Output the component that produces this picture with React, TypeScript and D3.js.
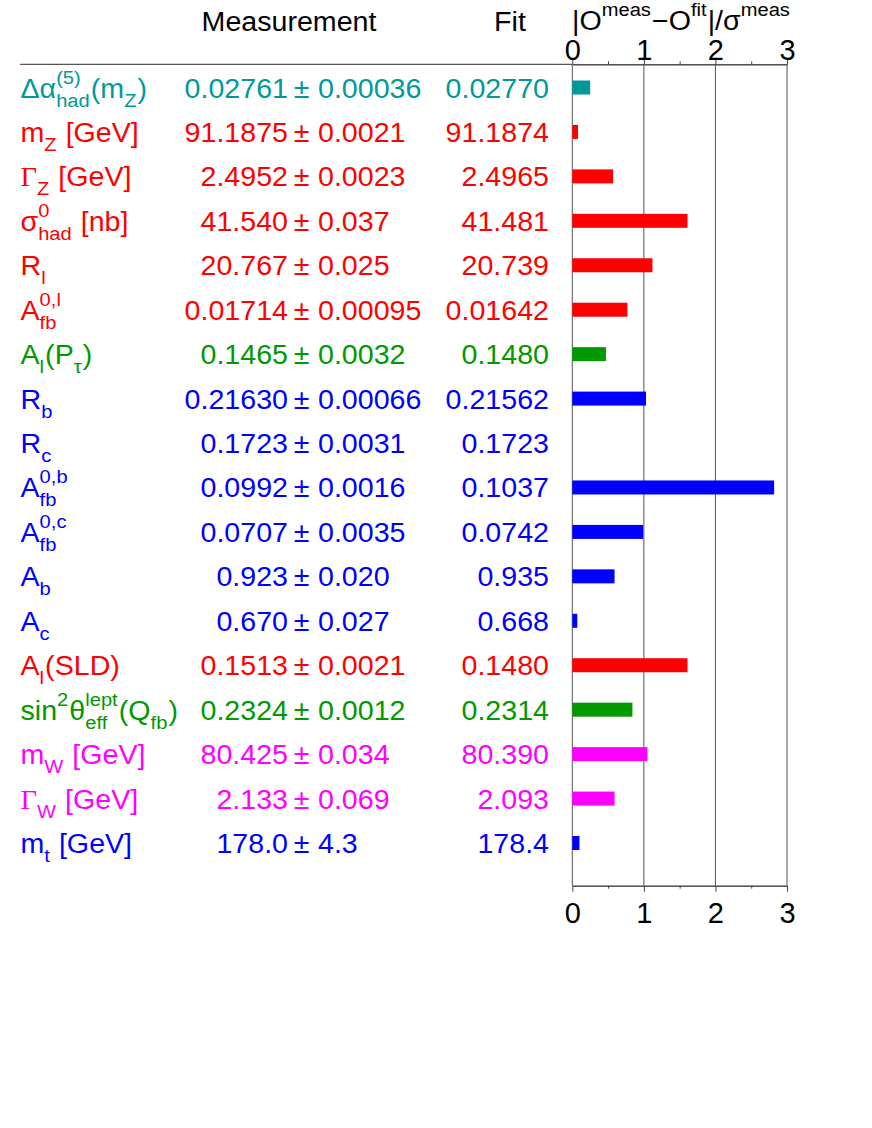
import React, { useEffect, useRef } from "react";
import * as d3 from "d3";

// rich-text pieces: plain text, sup, sub, or stacked sup+sub ("ss")
type Seg = { t: string; k?: "sup" | "sub" | "ss"; s?: string; serif?: boolean };

const labels: Seg[][] = [
  [{ t: "\u0394\u03b1" }, { t: "(5)", k: "ss", s: "had" }, { t: "(m" }, { t: "Z", k: "sub" }, { t: ")" }],
  [{ t: "m" }, { t: "Z", k: "sub" }, { t: " [GeV]" }],
  [{ t: "\u0393", serif: true }, { t: "Z", k: "sub" }, { t: " [GeV]" }],
  [{ t: "\u03c3" }, { t: "0", k: "ss", s: "had" }, { t: " [nb]" }],
  [{ t: "R" }, { t: "l", k: "sub" }],
  [{ t: "A" }, { t: "0,l", k: "ss", s: "fb" }],
  [{ t: "A" }, { t: "l", k: "sub" }, { t: "(P" }, { t: "\u03c4", k: "sub" }, { t: ")" }],
  [{ t: "R" }, { t: "b", k: "sub" }],
  [{ t: "R" }, { t: "c", k: "sub" }],
  [{ t: "A" }, { t: "0,b", k: "ss", s: "fb" }],
  [{ t: "A" }, { t: "0,c", k: "ss", s: "fb" }],
  [{ t: "A" }, { t: "b", k: "sub" }],
  [{ t: "A" }, { t: "c", k: "sub" }],
  [{ t: "A" }, { t: "l", k: "sub" }, { t: "(SLD)" }],
  [{ t: "sin" }, { t: "2", k: "sup" }, { t: "\u03b8" }, { t: "lept", k: "ss", s: "eff" }, { t: "(Q" }, { t: "fb", k: "sub" }, { t: ")" }],
  [{ t: "m" }, { t: "W", k: "sub" }, { t: " [GeV]" }],
  [{ t: "\u0393", serif: true }, { t: "W", k: "sub" }, { t: " [GeV]" }],
  [{ t: "m" }, { t: "t", k: "sub" }, { t: " [GeV]" }],
];

const measured = ["0.02761", "91.1875", "2.4952", "41.540", "20.767", "0.01714", "0.1465", "0.21630", "0.1723",
  "0.0992", "0.0707", "0.923", "0.670", "0.1513", "0.2324", "80.425", "2.133", "178.0"];
const errors = ["0.00036", "0.0021", "0.0023", "0.037", "0.025", "0.00095", "0.0032", "0.00066", "0.0031",
  "0.0016", "0.0035", "0.020", "0.027", "0.0021", "0.0012", "0.034", "0.069", "4.3"];
const fits = ["0.02770", "91.1874", "2.4965", "41.481", "20.739", "0.01642", "0.1480", "0.21562", "0.1723",
  "0.1037", "0.0742", "0.935", "0.668", "0.1480", "0.2314", "80.390", "2.093", "178.4"];
const pulls = [0.25, 0.08, 0.57, 1.61, 1.12, 0.77, 0.47, 1.03, 0.0, 2.82, 0.99, 0.59, 0.07, 1.61, 0.84, 1.05, 0.59, 0.1];
const groups = ["teal", "red", "red", "red", "red", "red", "green", "blue", "blue",
  "blue", "blue", "blue", "blue", "red", "green", "magenta", "magenta", "blue"];
const ticks = [0, 1, 2, 3];
const minorTicks = [0.5, 1.5, 2.5];

const colors: Record<string, string> = {
  teal: "#009999",
  red: "#ff0000",
  green: "#009900",
  blue: "#0000ff",
  magenta: "#ff00ff",
};

const FONT = "Liberation Sans, Arial, Helvetica, sans-serif";
const SIZE = 27;
const SCRIPT = 19;
const SX = 1.06; // ROOT text is a touch wider than Arial

const App = () => {
  const svgRef = useRef<SVGSVGElement>(null);

  useEffect(() => {
    const svg = d3.select(svgRef.current);
    svg.selectAll("*").remove();

    const x = d3.scaleLinear().domain([0, 3]).range([572.3, 787]);
    const y = d3.scalePoint<number>().domain(d3.range(labels.length)).range([97.5, 853]);
    const top = 64.3;
    const bottom = 885.7;

    // draws a row of pieces, returns its width (local units)
    const rich = (g: any, segs: Seg[]) => {
      let cx = 0;
      segs.forEach((seg) => {
        const put = (t: string, dy: number, fs: number) =>
          g.append("text").attr("x", cx).attr("y", dy).attr("font-size", fs)
            .style("white-space", "pre")
            .attr("font-family", seg.serif ? "Liberation Serif, serif" : null).text(t);
        if (seg.k === "ss") {
          const a = put(seg.t, -14, SCRIPT);
          const b = put(seg.s || "", 9, SCRIPT);
          cx += Math.max(a.node().getComputedTextLength(), b.node().getComputedTextLength()) + 1;
        } else if (seg.k === "sup") {
          cx += put(seg.t, -14, SCRIPT).node().getComputedTextLength() + 1;
        } else if (seg.k === "sub") {
          cx += put(seg.t, 9, SCRIPT).node().getComputedTextLength() + 1;
        } else {
          cx += put(seg.t, 0, SIZE).node().getComputedTextLength();
        }
      });
      return cx;
    };

    const txt = (px: number, py: number, anchor: string, fill: string) =>
      svg.append("g")
        .attr("transform", `translate(${px},${py}) scale(${SX},1)`)
        .attr("font-family", FONT)
        .attr("font-size", SIZE)
        .attr("fill", fill)
        .attr("text-anchor", anchor);

    // headers
    txt(289, 31, "middle", "#000").append("text").text("Measurement");
    txt(510, 31, "middle", "#000").append("text").text("Fit");
    rich(txt(572, 30, "start", "#000"), [
      { t: "|O" }, { t: "meas", k: "sup" }, { t: "\u2212O" }, { t: "fit", k: "sup" },
      { t: "|/\u03c3" }, { t: "meas", k: "sup" },
    ]);

    // separator line
    svg.append("line").attr("x1", 20).attr("x2", x(0)).attr("y1", top).attr("y2", top)
      .attr("stroke", "#555").attr("stroke-width", 1.2);

    // grid lines
    svg.append("g").selectAll("line").data(ticks).join("line")
      .attr("x1", (d) => x(d)).attr("x2", (d) => x(d))
      .attr("y1", top).attr("y2", bottom)
      .attr("stroke", "#555").attr("stroke-width", 1);

    // axes
    const axisFont = (g: any) => g.attr("font-family", FONT).attr("font-size", 29);
    const topAxis = svg.append("g").attr("transform", `translate(0,${top})`)
      .call(d3.axisTop(x).tickValues(ticks).tickSize(6).tickSizeOuter(0).tickFormat(d3.format("d")) as any)
      .call(axisFont);
    topAxis.selectAll("text").attr("y", -4.3).attr("dy", 0);
    svg.append("g").attr("transform", `translate(0,${top})`)
      .call(d3.axisTop(x).tickValues(minorTicks).tickSize(3).tickSizeOuter(0).tickFormat(() => "") as any);

    const botAxis = svg.append("g").attr("transform", `translate(0,${bottom})`)
      .call(d3.axisBottom(x).tickValues(ticks).tickSize(6).tickSizeOuter(0).tickFormat(d3.format("d")) as any)
      .call(axisFont);
    botAxis.selectAll("text").attr("y", 37).attr("dy", 0);
    svg.append("g").attr("transform", `translate(0,${bottom})`)
      .call(d3.axisBottom(x).tickValues(minorTicks).tickSize(3).tickSizeOuter(0).tickFormat(() => "") as any);
    svg.selectAll(".domain, .tick line").attr("stroke", "#444");

    // rows
    labels.forEach((segs, i) => {
      const yy = y(i) as number;
      const c = colors[groups[i]];
      rich(txt(20.5, yy, "start", c), segs);
      txt(288, yy, "end", c).append("text").text(measured[i]);
      txt(301.5, yy, "middle", c).append("text").text("\u00b1");
      txt(318, yy, "start", c).append("text").text(errors[i]);
      txt(549, yy, "end", c).append("text").text(fits[i]);
    });

    // pull bars
    svg.append("g").selectAll("rect").data(pulls).join("rect")
      .attr("x", x(0))
      .attr("y", (_, i) => (y(i) as number) - 17)
      .attr("width", (d) => x(d) - x(0))
      .attr("height", 14)
      .attr("fill", (_, i) => colors[groups[i]]);
  }, []);

  return (
    <svg
      ref={svgRef}
      width={872}
      height={1128}
      style={{ position: "absolute", left: 0, top: 0, background: "#fff" }}
    />
  );
};

export default App;
